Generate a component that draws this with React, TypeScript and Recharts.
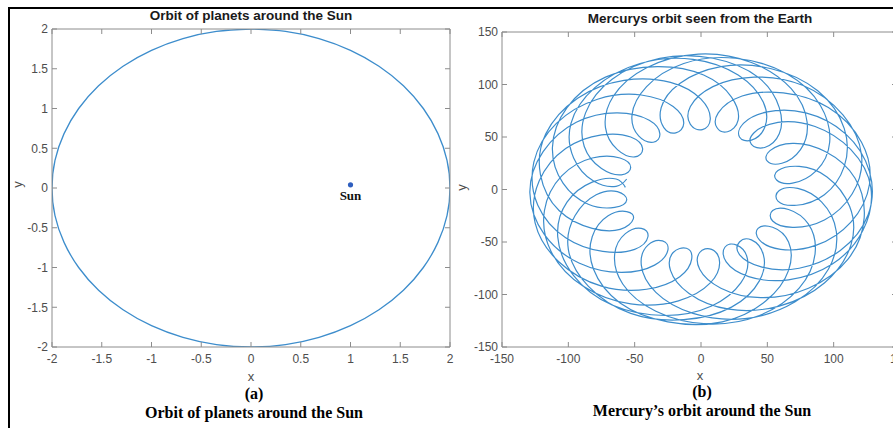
import { ComposedChart, Line, Scatter, XAxis, YAxis } from "recharts";

// circle of radius 2, every 10 degrees, starting at the top
const circleX = [
  0, -0.347, -0.684, -1.0, -1.286, -1.532, -1.732, -1.879, -1.97, -2, -1.97, -1.879, -1.732, -1.532, -1.286, -1.0,
  -0.684, -0.347, 0, 0.347, 0.684, 1.0, 1.286, 1.532, 1.732, 1.879, 1.97, 2, 1.97, 1.879, 1.732, 1.532, 1.286, 1.0,
  0.684, 0.347, 0,
];
const circleY = [
  2, 1.97, 1.879, 1.732, 1.532, 1.286, 1.0, 0.684, 0.347, 0, -0.347, -0.684, -1.0, -1.286, -1.532, -1.732, -1.879,
  -1.97, -2, -1.97, -1.879, -1.732, -1.532, -1.286, -1.0, -0.684, -0.347, 0, 0.347, 0.684, 1.0, 1.286, 1.532, 1.732,
  1.879, 1.97, 2,
];
const sunPoint = [{ x: 1, y: 0.04, name: "Sun" }];

// Mercury seen from the Earth, one point every 10 days
const mercuryX = [
  -57, -64, -82, -101, -108, -96, -67, -27, 8, 30, 35, 27, 18, 19, 36, 66, 99, 122, 128, 113,
  86, 58, 40, 38, 48, 59, 59, 43, 9, -31, -67, -87, -88, -75, -60, -53, -61, -82, -105, -118,
  -113, -89, -53, -17, 7, 14, 8, -1, -1, 15, 45, 81, 111, 123, 116, 94, 69, 52, 50, 61,
  75, 80, 68, 38, -2, -41, -66, -72, -63, -50, -44, -53, -75, -102, -122, -125, -107, -75, -41, -16,
  -7, -11, -21, -23, -9, 21, 59, 93, 113, 112, 95, 74, 58, 57, 69, 87, 97, 90, 65, 26,
  -13, -41, -52, -47, -36, -31, -39, -63, -94, -119, -129, -118, -92, -60, -35, -25, -29, -40, -45, -34,
  -6, 33, 71, 96, 102, 91, 73, 59, 58, 72, 93, 108, 108, 88, 53, 15, -16, -30, -28, -19,
  -13, -21, -45, -78, -109, -126, -123, -102, -74, -50, -40, -45, -57, -65, -59, -34, 4, 44, 74, 86,
  81, 66, 54, 54, 69, 93, 114, 121, 107, 77, 40, 9, -8, -8, 1, 7, 0, -23, -58, -93,
  -117, -121, -107, -82, -61, -51, -56, -70, -82, -81, -61, -25, 16, 49, 66, 66, 54, 43, 44, 60,
  87, 113, 127, 121, 96, 62, 31, 13, 12, 20, 28, 23, 2, -33, -72, -101, -112, -104, -85, -65,
  -56, -63, -79, -95, -100, -85, -53, -13, 23, 44, 47, 38, 29, 29, 46, 74, 105, 126, 127, 109,
  79, 50, 32, 29, 38, 48, 47, 28, -6, -46, -80, -98, -96, -81, -64, -56,
];
const mercuryY = [
  2, 10, 7, -12, -45, -82, -110, -120, -111, -89, -66, -53, -55, -69, -83, -86, -71, -39, 2, 38,
  60, 64, 54, 43, 40, 53, 78, 107, 125, 125, 105, 73, 41, 20, 14, 21, 30, 30, 13, -20,
  -59, -92, -109, -106, -89, -69, -57, -60, -76, -94, -103, -94, -66, -27, 11, 36, 44, 37, 27, 25,
  38, 64, 96, 121, 129, 116, 89, 59, 38, 31, 39, 50, 52, 39, 8, -32, -69, -92, -95, -83,
  -66, -56, -60, -77, -99, -114, -111, -89, -53, -16, 12, 22, 18, 9, 6, 18, 45, 80, 110, 125,
  120, 98, 71, 51, 45, 53, 66, 73, 64, 36, -3, -43, -70, -79, -72, -58, -49, -53, -72, -98,
  -118, -123, -107, -76, -40, -12, 1, -1, -11, -15, -5, 22, 58, 94, 115, 117, 101, 78, 59, 54,
  63, 79, 90, 86, 63, 26, -15, -46, -59, -57, -45, -37, -42, -61, -90, -116, -128, -120, -94, -61,
  -33, -19, -20, -30, -36, -29, -4, 33, 71, 99, 107, 98, 79, 62, 57, 67, 86, 102, 104, 87,
  53, 14, -20, -37, -38, -28, -21, -25, -45, -76, -108, -126, -126, -106, -77, -50, -36, -37, -48, -57,
  -53, -31, 5, 45, 78, 92, 89, 73, 59, 55, 66, 88, 109, 117, 107, 78, 40, 6, -14, -17,
  -10, -2, -5, -25, -57, -92, -118, -124, -112, -87, -62, -48, -50, -62, -74, -75, -58, -24, 17, 53,
  73, 74, 63, 50, 47, 59, 83, 109, 124, 120, 97, 63, 30, 8, 3, 10,
];

const orbitTicks = [-2, -1.5, -1, -0.5, 0, 0.5, 1, 1.5, 2];
const mercuryTicks = [-150, -100, -50, 0, 50, 100, 150];

const LINE = "#3d8dcc";
const BOX = "#8c8c8c";
const SANS = "Liberation Sans, Arial, sans-serif";
const SERIF = "Liberation Serif, Times New Roman, serif";
const TICK_TEXT = { fontSize: 12, fill: "#4d4d4d", fontFamily: SANS };

const circleData = circleX.map((x, i) => ({ x, y: circleY[i] }));
const mercuryData = mercuryX.map((x, i) => ({ x, y: mercuryY[i] }));

// matlab style box: ticks pointing inward on all four sides
function boxAxes(domain: [number, number], ticks: number[], rightTick = -5) {
  return [
    <XAxis
      key="xb"
      xAxisId="b"
      type="number"
      dataKey="x"
      orientation="bottom"
      domain={domain}
      ticks={ticks}
      allowDataOverflow
      height={20}
      tickSize={-5}
      tickMargin={12}
      stroke={BOX}
      tick={TICK_TEXT}
      interval={0}
    />,
    <XAxis
      key="xt"
      xAxisId="t"
      type="number"
      dataKey="x"
      orientation="top"
      domain={domain}
      ticks={ticks}
      allowDataOverflow
      height={1}
      tickSize={-5}
      stroke={BOX}
      tickFormatter={() => ""}
      interval={0}
    />,
    <YAxis
      key="yl"
      yAxisId="l"
      type="number"
      dataKey="y"
      orientation="left"
      domain={domain}
      ticks={ticks}
      allowDataOverflow
      width={30}
      tickSize={-5}
      tickMargin={9}
      stroke={BOX}
      tick={TICK_TEXT}
      interval={0}
    />,
    <YAxis
      key="yr"
      yAxisId="r"
      type="number"
      dataKey="y"
      orientation="right"
      domain={domain}
      ticks={ticks}
      allowDataOverflow
      width={1}
      tickSize={rightTick}
      stroke={BOX}
      tickFormatter={() => ""}
      interval={0}
    />,
  ];
}

function SunMark(props: any) {
  const { cx, cy } = props;
  return (
    <g>
      <circle cx={cx} cy={cy} r={2.6} fill="#2f5fbf" />
      <text x={cx} y={cy + 15} textAnchor="middle" fontFamily={SERIF} fontWeight="bold" fontSize={13} fill="#111">
        Sun
      </text>
    </g>
  );
}

function Text({ x, y, children, style }: { x: number; y: number; children: any; style: any }) {
  return (
    <div
      style={{
        position: "absolute",
        left: x - 200,
        top: y,
        width: 400,
        textAlign: "center",
        whiteSpace: "nowrap",
        lineHeight: "1",
        transform: "translateY(-50%)",
        ...style,
      }}
    >
      {children}
    </div>
  );
}

export default function App() {
  const title = { fontFamily: SANS, fontWeight: "bold", fontSize: 13.5, color: "#1a1a1a" };
  const axisName = { fontFamily: SANS, fontSize: 13, color: "#4d4d4d" };
  const caption = { fontFamily: SERIF, fontWeight: "bold", fontSize: 16, color: "#000" };
  return (
    <div
      style={{
        position: "absolute",
        left: 0,
        top: 0,
        width: 893,
        height: 428,
        overflow: "hidden",
        background: "#fff",
      }}
    >
      <div
        style={{
          position: "absolute",
          left: 8,
          top: 7,
          width: 900,
          height: 440,
          borderTop: "2px solid #000",
          borderLeft: "2px solid #000",
        }}
      />

      <div style={{ position: "absolute", left: 0, top: 0 }}>
        <ComposedChart width={460} height={380} margin={{ top: 28, right: 9, bottom: 13, left: 22 }}>
          {boxAxes([-2, 2], orbitTicks)}
          <Line
            xAxisId="b"
            yAxisId="l"
            data={circleData}
            dataKey="y"
            type="natural"
            dot={false}
            stroke={LINE}
            strokeWidth={1.3}
            isAnimationActive={false}
          />
          <Scatter
            xAxisId="b"
            yAxisId="l"
            data={sunPoint}
            dataKey="y"
            shape={<SunMark />}
            isAnimationActive={false}
          />
        </ComposedChart>
      </div>

      <div style={{ position: "absolute", left: 460, top: 0 }}>
        <ComposedChart width={450} height={380} margin={{ top: 31, right: 9, bottom: 13, left: 12 }}>
          {boxAxes([-150, 150], mercuryTicks, -8)}
          <Line
            xAxisId="b"
            yAxisId="l"
            data={mercuryData}
            dataKey="y"
            type="natural"
            dot={false}
            stroke={LINE}
            strokeWidth={1.2}
            isAnimationActive={false}
          />
        </ComposedChart>
      </div>

      <Text x={251} y={16} style={title}>
        Orbit of planets around the Sun
      </Text>
      <Text x={700} y={18.5} style={title}>
        Mercurys orbit seen from the Earth
      </Text>

      <Text x={251} y={376} style={axisName}>
        x
      </Text>
      <Text x={700} y={375} style={axisName}>
        x
      </Text>
      <div
        style={{
          position: "absolute",
          left: 14,
          top: 178,
          ...axisName,
          transform: "rotate(-90deg)",
          lineHeight: "1",
        }}
      >
        y
      </div>
      <div
        style={{
          position: "absolute",
          left: 458,
          top: 181,
          ...axisName,
          transform: "rotate(-90deg)",
          lineHeight: "1",
        }}
      >
        y
      </div>

      <Text x={254} y={394} style={caption}>
        (a)
      </Text>
      <Text x={254} y={413} style={caption}>
        Orbit of planets around the Sun
      </Text>
      <Text x={702} y={392} style={caption}>
        (b)
      </Text>
      <Text x={702} y={411} style={caption}>
        Mercury’s orbit around the Sun
      </Text>
    </div>
  );
}
